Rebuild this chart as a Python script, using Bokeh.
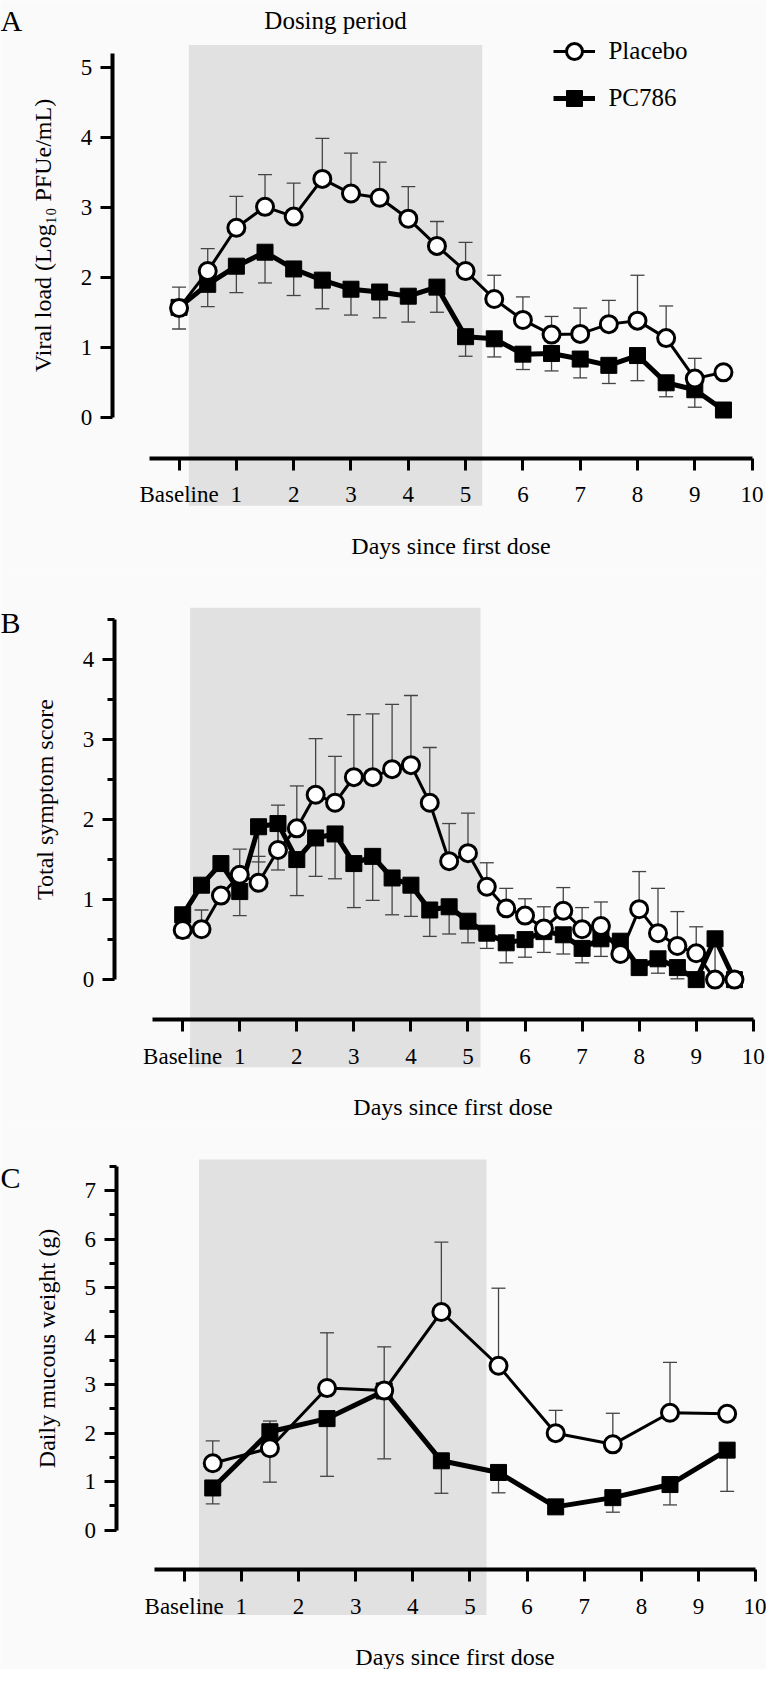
from bokeh.plotting import figure
from bokeh.models import (ColumnDataSource, Range1d, LinearAxis, FixedTicker, Whisker,
                          TeeHead, Label, Legend, LegendItem)
from bokeh.layouts import column
from bokeh.embed import file_html
from bokeh.resources import INLINE

NAN = float("nan")

# ---------------- data ----------------
x_tick_values = [0, 1, 2, 3, 4, 5, 6, 7, 8, 9, 10]
x_tick_first_label = "Baseline"

# Panel A: viral load
days_a = [0, 0.5, 1, 1.5, 2, 2.5, 3, 3.5, 4, 4.5, 5, 5.5, 6, 6.5, 7, 7.5, 8, 8.5, 9, 9.5]
placebo_a = [1.56, 2.09, 2.71, 3.01, 2.87, 3.41, 3.20, 3.14, 2.84, 2.45, 2.09, 1.69, 1.39,
             1.18, 1.19, 1.33, 1.38, 1.13, 0.55, 0.64]
placebo_a_err = [1.86, 2.41, 3.16, 3.47, 3.35, 3.99, 3.78, 3.65, 3.30, 2.80, 2.50, 2.03, 1.72,
                 1.44, 1.56, 1.67, 2.03, 1.59, 0.84, NAN]
pc786_a = [1.57, 1.90, 2.16, 2.36, 2.12, 1.96, 1.83, 1.79, 1.73, 1.86, 1.15, 1.12, 0.90,
           0.91, 0.83, 0.74, 0.88, 0.49, 0.39, 0.10]
pc786_a_err = [1.26, 1.58, 1.78, 1.92, 1.74, 1.55, 1.46, 1.42, 1.36, 1.50, 0.87, 0.86, 0.68,
               0.66, 0.56, 0.48, 0.52, 0.29, 0.14, NAN]
dosing_a = (0.17, 5.29)

# Panel B: total symptom score
days_b = [0, 0.33, 0.67, 1, 1.33, 1.67, 2, 2.33, 2.67, 3, 3.33, 3.67, 4, 4.33, 4.67, 5,
          5.33, 5.67, 6, 6.33, 6.67, 7, 7.33, 7.67, 8, 8.33, 8.67, 9, 9.33, 9.67]
placebo_b = [0.62, 0.63, 1.05, 1.31, 1.21, 1.62, 1.89, 2.31, 2.21, 2.53, 2.53, 2.63, 2.68,
             2.21, 1.48, 1.58, 1.16, 0.89, 0.80, 0.64, 0.86, 0.63, 0.67, 0.32, 0.88, 0.58,
             0.42, 0.33, 0.0, 0.0]
placebo_b_err = [NAN, 0.87, NAN, 1.63, 1.54, 2.18, 2.42, 3.01, 2.79, 3.31, 3.32, 3.44, 3.55,
                 2.90, 1.95, 2.08, 1.46, 1.14, 1.01, 0.91, 1.15, 0.90, 0.97, NAN, 1.35, 1.14,
                 0.85, 0.66, NAN, NAN]
pc786_b = [0.81, 1.18, 1.45, 1.10, 1.91, 1.95, 1.50, 1.77, 1.82, 1.45, 1.54, 1.27, 1.18,
           0.87, 0.91, 0.73, 0.58, 0.46, 0.50, 0.60, 0.56, 0.39, 0.51, 0.48, 0.15, 0.26,
           0.15, 0.0, 0.51, 0.0]
pc786_b_err = [0.52, NAN, NAN, 0.80, 1.47, 1.37, 1.05, 1.29, 1.26, 0.90, 0.99, 0.81, 0.79,
               0.54, 0.57, 0.46, 0.39, 0.21, 0.28, 0.34, 0.32, 0.21, 0.29, NAN, NAN, 0.08,
               0.01, NAN, 0.05, NAN]
dosing_b = (0.13, 5.22)

# Panel C: daily mucous weight
days_c = [0.5, 1.5, 2.5, 3.5, 4.5, 5.5, 6.5, 7.5, 8.5, 9.5]
placebo_c = [1.38, 1.69, 2.93, 2.88, 4.50, 3.39, 2.00, 1.77, 2.42, 2.40]
placebo_c_err = [1.84, 0.99, 4.07, 3.78, 5.94, 4.99, 2.47, 2.41, 3.46, NAN]
pc786_c = [0.87, 2.03, 2.30, 2.87, 1.43, 1.19, 0.48, 0.67, 0.94, 1.65]
pc786_c_err = [0.54, 2.25, 1.11, 1.47, 0.76, 0.77, NAN, 0.37, 0.52, 0.80]
dosing_c = (0.26, 5.29)

series_names = ["Placebo", "PC786"]
y_titles = ["Viral load (Log\u2081\u2080 PFUe/mL)", "Total symptom score", "Daily mucous weight (g)"]
x_title = "Days since first dose"
dosing_text = "Dosing period"

# ---------------- layout ----------------
FONT = "Liberation Serif"
BG = "#fafafa"
SHADE = "#e1e1e1"
W = 766
HEIGHTS = [570, 555, 544]
REF_W, REF_H = 782, 1685
SX = W / REF_W
SY = sum(HEIGHTS) / REF_H


def axis_style(ax):
    ax.axis_line_width = 4
    ax.axis_line_color = "black"
    ax.major_tick_line_width = 3
    ax.minor_tick_line_width = 3
    ax.major_tick_in = 0
    ax.major_tick_out = 12
    ax.minor_tick_in = 0
    ax.minor_tick_out = 7
    ax.major_label_text_font = FONT
    ax.major_label_text_font_size = "23px"
    ax.major_label_text_color = "black"
    ax.axis_label_text_font = FONT
    ax.axis_label_text_font_size = "24px"
    ax.axis_label_text_font_style = "normal"
    ax.axis_label_text_color = "black"


def err_source(xs, vs, es):
    b, lo, up = [], [], []
    for x, v, e in zip(xs, vs, es):
        if e == e:
            b.append(x)
            lo.append(min(v, e))
            up.append(max(v, e))
    return ColumnDataSource(dict(base=b, lower=lo, upper=up))


def make_panel(idx, top_ref, H, x0, ppd, y0, ppu, yaxis_x, xaxis_y, xaxis_start, ybound,
               yticks, yminor, shade_top, shade_bot, dosing, days, pl, pl_err, pc, pc_err,
               pl_w, pc_w):
    bottom_ref = top_ref + H / SY
    xr = Range1d((0 - x0) / ppd, (REF_W - x0) / ppd)
    yr = Range1d((y0 - bottom_ref) / ppu, (y0 - top_ref) / ppu)
    p = figure(width=W, height=H, x_range=xr, y_range=yr, x_axis_type=None, y_axis_type=None,
               toolbar_location=None, output_backend="svg", min_border=0,
               min_border_left=0, min_border_right=0, min_border_top=0, min_border_bottom=0)
    p.outline_line_color = None
    p.background_fill_color = BG
    p.border_fill_color = BG

    # dosing shading
    p.quad(left=[dosing[0]], right=[dosing[1]], top=[(y0 - shade_top) / ppu],
           bottom=[(y0 - shade_bot) / ppu], fill_color=SHADE, line_color=None, level="image")

    yaxis = LinearAxis(fixed_location=(yaxis_x - x0) / ppd, bounds=(0, ybound),
                       ticker=FixedTicker(ticks=yticks, minor_ticks=yminor),
                       axis_label=y_titles[idx])
    axis_style(yaxis)
    yaxis.major_label_standoff = 8
    yaxis.axis_label_standoff = 22
    p.add_layout(yaxis, "left")

    xaxis = LinearAxis(fixed_location=(y0 - xaxis_y) / ppu, bounds=((xaxis_start - x0) / ppd, 10),
                       ticker=FixedTicker(ticks=x_tick_values, minor_ticks=[]),
                       major_label_overrides={0: x_tick_first_label}, axis_label=x_title)
    axis_style(xaxis)
    xaxis.major_label_standoff = 12
    xaxis.axis_label_standoff = 22
    p.add_layout(xaxis, "below")

    for vs, es in ((pc, pc_err), (pl, pl_err)):
        w = Whisker(source=err_source(days, vs, es), base="base", lower="lower", upper="upper",
                    dimension="height", line_color="#444444", line_width=1.3, level="underlay",
                    upper_head=TeeHead(size=14, line_color="#444444", line_width=1.3),
                    lower_head=TeeHead(size=14, line_color="#444444", line_width=1.3))
        p.add_layout(w)

    pc_line = p.line(days, pc, line_color="black", line_width=pc_w)
    pc_sc = p.scatter(days, pc, marker="square", size=16, fill_color="black", line_color="black",
                      line_width=1)
    pl_line = p.line(days, pl, line_color="black", line_width=pl_w)
    pl_sc = p.scatter(days, pl, marker="circle", size=17, fill_color="white", line_color="black",
                      line_width=3)
    return p, (pl_line, pl_sc), (pc_line, pc_sc)


pA, plA, pcA = make_panel(0, 0.0, HEIGHTS[0], 182.3, 58.5, 420.5, 70.5, 114, 462, 152, 5.2,
                          [0, 1, 2, 3, 4, 5], [], 45, 510, dosing_a, days_a,
                          placebo_a, placebo_a_err, pc786_a, pc786_a_err, 3, 5)
topB = HEIGHTS[0] / SY
pB, plB, pcB = make_panel(1, topB, HEIGHTS[1], 186, 58.25, 988.5, 80.8, 116, 1029, 155, 4.5,
                          [0, 1, 2, 3, 4], [0.5, 1.5, 2.5, 3.5, 4.5], 613, 1077, dosing_b, days_b,
                          placebo_b, placebo_b_err, pc786_b, pc786_b_err, 3, 5)
topC = (HEIGHTS[0] + HEIGHTS[1]) / SY
pC, plC, pcC = make_panel(2, topC, HEIGHTS[2], 187.5, 58.35, 1544.3, 48.95, 118, 1584.3, 157.5, 7.5,
                          [0, 1, 2, 3, 4, 5, 6, 7], [0.5, 1.5, 2.5, 3.5, 4.5, 5.5, 6.5, 7.5],
                          1170, 1630, dosing_c, days_c,
                          placebo_c, placebo_c_err, pc786_c, pc786_c_err, 3, 5)

# panel letters
for p, H, top_ref, yref, letter in ((pA, HEIGHTS[0], 0.0, 20, "A"), (pB, HEIGHTS[1], topB, 628, "B"),
                                    (pC, HEIGHTS[2], topC, 1188, "C")):
    p.add_layout(Label(x=0, y=H - (yref - top_ref) * SY, x_units="screen", y_units="screen",
                       text=letter, text_font=FONT, text_font_size="30px", text_baseline="middle",
                       text_align="left", text_color="black"))

# dosing period text
pA.add_layout(Label(x=(dosing_a[0] + dosing_a[1]) / 2, y=HEIGHTS[0] - 20 * SY, x_units="data",
                    y_units="screen", text=dosing_text, text_font=FONT, text_font_size="25px",
                    text_align="center", text_baseline="middle", text_color="black"))

# legend
legend = Legend(items=[LegendItem(label=series_names[0], renderers=list(plA)),
                       LegendItem(label=series_names[1], renderers=list(pcA))],
                location=(565 * SX, HEIGHTS[0] - (34 + 85) * SY), glyph_width=42, glyph_height=40,
                label_height=40, spacing=7, padding=0, margin=0, label_standoff=13,
                border_line_color=None, background_fill_alpha=0, label_text_font=FONT,
                label_text_font_size="25px", label_text_color="black")
pA.add_layout(legend)

layout = column(pA, pB, pC, spacing=0)
open("out.html", "w").write(file_html(layout, INLINE))
